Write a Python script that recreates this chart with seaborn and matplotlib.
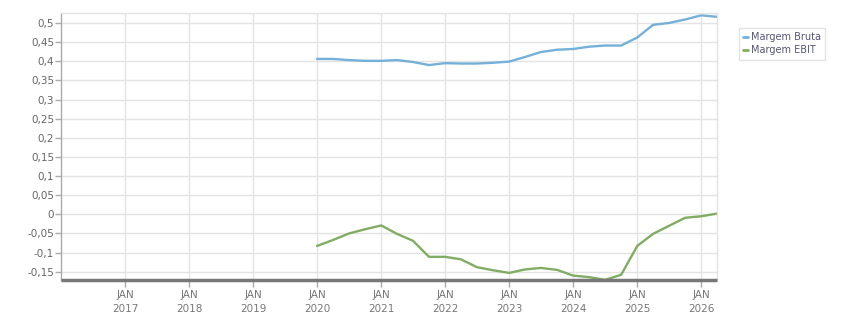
import matplotlib
matplotlib.use("Agg")
import matplotlib.pyplot as plt
import seaborn as sns
import pandas as pd
import numpy as np

# ---- data (quarterly) ----
quarters = pd.date_range("2020-01-01", "2026-04-01", freq="QS")
margem_bruta = [0.406, 0.406, 0.403, 0.401, 0.401, 0.403, 0.398, 0.390,
                0.395, 0.394, 0.394, 0.396, 0.399, 0.411, 0.424, 0.430,
                0.432, 0.438, 0.441, 0.441, 0.462, 0.495, 0.500, 0.509,
                0.520, 0.516]
margem_ebit = [-0.0825, -0.067, -0.050, -0.039, -0.029, -0.051, -0.069, -0.111,
               -0.111, -0.1175, -0.138, -0.146, -0.153, -0.144, -0.140, -0.145,
               -0.160, -0.164, -0.171, -0.158, -0.0825, -0.051, -0.030, -0.009,
               -0.005, 0.002]
series_names = ["Margem Bruta", "Margem EBIT"]
colors = ["#74b0d8", "#80ad62"]
year_ticks = list(range(2017, 2027))

df = pd.DataFrame({
    "date": list(quarters) * 2,
    "value": margem_bruta + margem_ebit,
    "serie": [series_names[0]] * len(quarters) + [series_names[1]] * len(quarters),
})

sns.set_style("white")
plt.rcParams["font.family"] = ["DejaVu Sans"]

fig = plt.figure(figsize=(8.51, 3.13), dpi=100)
ax = fig.add_axes([61 / 851, 1 - 280 / 313, (717 - 61) / 851, (280 - 13) / 313])

sns.lineplot(data=df, x="date", y="value", hue="serie", palette=colors,
             linewidth=1.7, ax=ax, legend=True)

ax.set_xlim(pd.Timestamp("2016-01-01"), pd.Timestamp("2026-04-01"))
ax.set_ylim(-0.1715, 0.526)

ax.set_xticks([pd.Timestamp(f"{y}-01-01") for y in year_ticks])
ax.set_xticklabels([f"JAN\n{y}" for y in year_ticks])
yt = np.round(np.arange(-0.15, 0.5001, 0.05), 2)
ax.set_yticks(yt)
def fmt(v):
    s = ("%.2f" % v).rstrip("0").rstrip(".")
    if s in ("-0", "0.", ""):
        s = "0"
    return s.replace(".", ",")
ax.set_yticklabels([fmt(v) for v in yt])

ax.grid(True, color="#e3e3e3", linewidth=1)
ax.set_axisbelow(True)
ax.set_xlabel("")
ax.set_ylabel("")

for side in ["top", "right"]:
    ax.spines[side].set_color("#e3e3e3")
    ax.spines[side].set_linewidth(1)
ax.spines["left"].set_color("#aaaaaa")
ax.spines["left"].set_linewidth(1)
ax.spines["bottom"].set_color("#777777")
ax.spines["bottom"].set_linewidth(2.5)
ax.spines["bottom"].set_capstyle("butt")

ax.tick_params(axis="y", which="both", left=True, length=4, width=1,
               color="#aaaaaa", labelcolor="#666666", labelsize=7.5, pad=1)
ax.tick_params(axis="x", which="both", bottom=True, length=5, width=1,
               color="#aaaaaa", labelcolor="#777777", labelsize=7.5, pad=2)
for lbl in ax.get_xticklabels():
    lbl.set_linespacing(1.5)

leg = ax.legend(loc="upper left", bbox_to_anchor=(739 / 851, 1 - 28 / 313),
                bbox_transform=fig.transFigure, frameon=True, fontsize=7,
                handlelength=0.5, handletextpad=0.25, borderpad=0.45,
                labelspacing=0.3, fancybox=False, title=None, borderaxespad=0)
leg.get_frame().set_edgecolor("#dddddd")
leg.get_frame().set_linewidth(1)
for t in leg.get_texts():
    t.set_color("#555577")
for h in leg.get_lines():
    h.set_linewidth(2)

fig.savefig("out.png", dpi=100)
